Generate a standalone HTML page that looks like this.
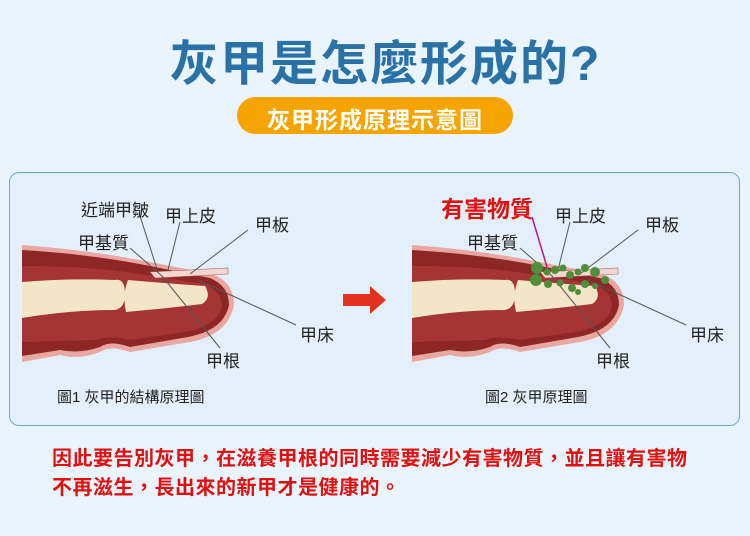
<!DOCTYPE html>
<html><head><meta charset="utf-8"><style>
body{margin:0;width:750px;height:536px;background:#eaf4fc;font-family:"Liberation Sans","Noto Sans CJK TC",sans-serif;position:relative;overflow:hidden}
.t{position:absolute;white-space:nowrap}
</style></head><body>
<div class="t" style="left:170px;top:24px;font-size:48px;font-weight:bold;color:#2a72a6;letter-spacing:2px">灰甲是怎麼形成的?</div>
<div style="position:absolute;left:237px;top:97px;width:276px;height:37px;border-radius:19px;background:#f6a400"></div>
<div class="t" style="left:237px;top:101px;width:276px;text-align:center;font-size:23px;font-weight:bold;color:#fff;letter-spacing:1px">灰甲形成原理示意圖</div>
<div style="position:absolute;left:9px;top:172px;width:729px;height:252px;border:1.5px solid #6da6d3;border-radius:10px;background:#e3f0fb"></div>
<svg width="750" height="536" style="position:absolute;left:0;top:0">
<defs>
<g id="f">
<path d="M22 245 Q90 250 150 262 L212 274 Q234 282 234 305 Q228 335 190 342 L130 352 Q110 345 100 352 Q80 360 60 355 L22 362 Z" fill="#e8a7a0"/>
<path d="M22 250 Q90 254 150 266 L210 278 Q229 286 229 305 Q224 330 188 337 L130 347 Q110 340 100 347 Q80 354 60 350 L22 356 Z" fill="#8f2626"/>
<path d="M22 266 Q90 266 140 274 L205 284 Q222 292 222 307 Q217 326 185 332 L130 340 Q110 335 95 340 L22 342 Z" fill="#a53434"/>
<path d="M22 282 Q70 278 115 280 Q125 278 125 294 Q125 308 115 310 Q70 310 22 318 Z" fill="#f3e6c8"/>
<path d="M128 280 Q175 284 205 286 Q212 298 202 304 Q170 308 126 312 Q122 295 128 280 Z" fill="#f3e6c8"/>
<path d="M150 272 L228 268 L228 274 L155 278 Z" fill="#f0d8d0" stroke="#b06060" stroke-width="0.6"/>
</g>
</defs>
<use href="#f"/>
<use href="#f" x="390"/>
<g stroke="#555" stroke-width="1" fill="none">
<line x1="140" y1="216" x2="157" y2="269"/><line x1="180" y1="222" x2="168" y2="270"/>
<line x1="248" y1="230" x2="190" y2="274"/><line x1="130" y1="248" x2="162" y2="276"/>
<line x1="162" y1="276" x2="220" y2="348"/><line x1="198" y1="280" x2="296" y2="325"/>
<line x1="570" y1="222" x2="558" y2="270"/><line x1="638" y1="230" x2="580" y2="274"/>
<line x1="520" y1="248" x2="552" y2="276"/><line x1="552" y1="276" x2="610" y2="348"/>
<line x1="588" y1="280" x2="686" y2="325"/>
</g>
<line x1="532" y1="217" x2="547" y2="267" stroke="#c0177a" stroke-width="1.5"/>
<g fill="#4f8f3a">
<circle cx="537" cy="268" r="6"/><circle cx="536" cy="280" r="6"/><circle cx="547" cy="272" r="3.5"/><circle cx="555" cy="270" r="4"/><circle cx="563" cy="268" r="3.5"/><circle cx="570" cy="275" r="4"/><circle cx="578" cy="272" r="3.5"/><circle cx="585" cy="268" r="4"/><circle cx="595" cy="272" r="5"/><circle cx="605" cy="280" r="4"/><circle cx="548" cy="284" r="4"/><circle cx="560" cy="283" r="3.5"/><circle cx="572" cy="288" r="4"/><circle cx="585" cy="284" r="4"/><circle cx="595" cy="286" r="3"/><circle cx="578" cy="292" r="3"/>
</g>
<polygon points="343,294 370,294 370,286 386,300 370,314 370,306 343,306" fill="#e33120"/>
</svg>
<div class="t" style="left:81px;top:196px;font-size:17px;color:#222">近端甲皺</div>
<div class="t" style="left:165px;top:202px;font-size:17px;color:#222">甲上皮</div>
<div class="t" style="left:255px;top:211px;font-size:17px;color:#222">甲板</div>
<div class="t" style="left:78px;top:229px;font-size:17px;color:#222">甲基質</div>
<div class="t" style="left:300px;top:321px;font-size:17px;color:#222">甲床</div>
<div class="t" style="left:206px;top:347px;font-size:17px;color:#222">甲根</div>
<div class="t" style="left:57px;top:386px;font-size:15px;color:#222">圖1 灰甲的結構原理圖</div>
<div class="t" style="left:441px;top:190px;font-size:23px;font-weight:bold;color:#e01010">有害物質</div>
<div class="t" style="left:555px;top:202px;font-size:17px;color:#222">甲上皮</div>
<div class="t" style="left:645px;top:211px;font-size:17px;color:#222">甲板</div>
<div class="t" style="left:467px;top:229px;font-size:17px;color:#222">甲基質</div>
<div class="t" style="left:690px;top:321px;font-size:17px;color:#222">甲床</div>
<div class="t" style="left:596px;top:347px;font-size:17px;color:#222">甲根</div>
<div class="t" style="left:485px;top:386px;font-size:15px;color:#222">圖2 灰甲原理圖</div>
<div class="t" style="left:52px;top:445px;font-size:20px;font-weight:bold;color:#e01010;line-height:29px;letter-spacing:0.5px">因此要告別灰甲，在滋養甲根的同時需要減少有害物質，並且讓有害物<br>不再滋生，長出來的新甲才是健康的。</div>
</body></html>
